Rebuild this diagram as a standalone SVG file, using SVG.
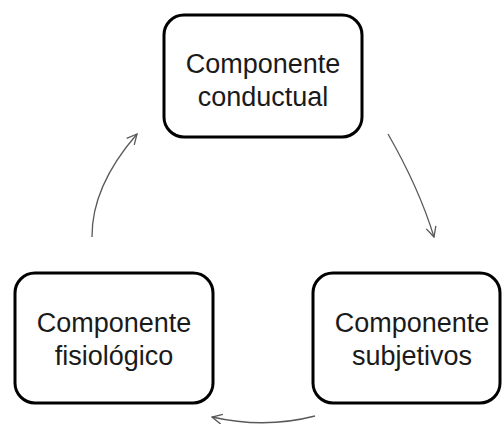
<svg xmlns="http://www.w3.org/2000/svg" width="502" height="424" viewBox="0 0 502 424">
  <defs>
    <style>
      .box { fill: #ffffff; stroke: #000000; stroke-width: 3; }
      .label { font-family: "Liberation Sans", Arial, sans-serif; font-size: 27px; fill: #1a1a1a; text-anchor: middle; }
      .link { fill: none; stroke: #595959; stroke-width: 1.3; }
    </style>
    <marker id="arrow" viewBox="0 0 12 12" refX="11" refY="6" markerWidth="12" markerHeight="12" markerUnits="userSpaceOnUse" orient="auto">
      <path d="M1,1 L11,6 L1,11" fill="none" stroke="#595959" stroke-width="1.3"/>
    </marker>
  </defs>
  <rect width="502" height="424" fill="#ffffff"/>

  <g id="conductual">
    <rect class="box" x="164" y="15" width="198" height="122" rx="20" ry="20"/>
    <text class="label" x="263" y="73">Componente</text>
    <text class="label" x="263" y="106">conductual</text>
  </g>

  <g id="subjetivos">
    <rect class="box" x="313" y="273" width="187" height="130" rx="20" ry="20"/>
    <text class="label" x="412" y="332">Componente</text>
    <text class="label" x="412" y="365">subjetivos</text>
  </g>

  <g id="fisiologico">
    <rect class="box" x="15" y="273" width="198" height="130" rx="20" ry="20"/>
    <text class="label" x="114" y="332">Componente</text>
    <text class="label" x="114" y="365">fisiológico</text>
  </g>

  <g id="connectors">
    <path class="link" d="M388,134 Q419,188 434,237" marker-end="url(#arrow)"/>
    <path class="link" d="M315,416 Q265,429 212,417" marker-end="url(#arrow)"/>
    <path class="link" d="M92,237 Q91.5,186.5 137,134" marker-end="url(#arrow)"/>
  </g>
</svg>
